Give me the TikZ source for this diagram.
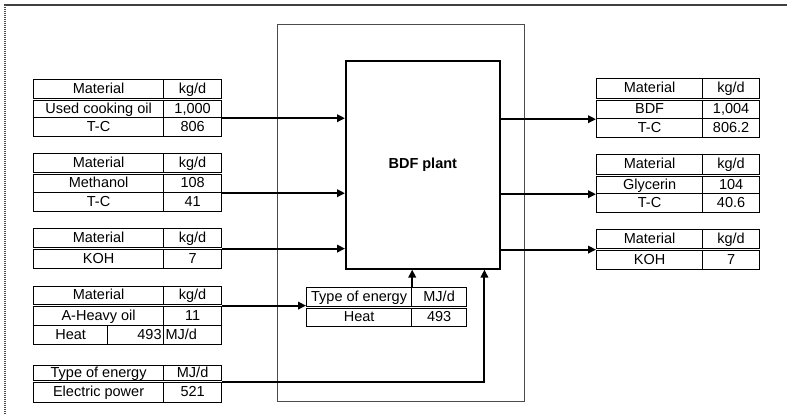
\documentclass[tikz,border=0pt]{standalone}
\usepackage{fontspec}
\setmainfont{Liberation Sans}
\usetikzlibrary{arrows.meta,calc}
\newcommand\tcell[6]{\node[cell, minimum width=#4pt, minimum height=#5pt] (#1) at (#2,#3) {#6};}
\begin{document}
\begin{tikzpicture}[x=1pt,y=-1pt,
  cell/.style={draw, line width=1.2pt, inner sep=0pt, anchor=north west,
    text height=10.5pt, text depth=2.5pt, font=\fontsize{14.5}{15}\selectfont},
  rcell/.style={cell, text width=52pt, align=right},
  lcell/.style={cell, text width=54pt, align=left},
  arr/.style={line width=2.1pt, -{Triangle[length=8pt,width=7.5pt]}},
  frame/.style={draw=black!75, line width=2pt},
  dotframe/.style={draw=black!70, line width=1.6pt, dash pattern=on 1pt off 1pt},
  boundary/.style={draw=black!70, line width=0.9pt},
  plantbox/.style={draw, line width=1.6pt, inner sep=0pt, anchor=north west,
    font=\bfseries\fontsize{14.5}{15}\selectfont}]
\useasboundingbox (0,0) rectangle (787,415);
% page frame
\draw[frame] (4,5) -- (787,5);
\draw[dotframe] (5,5) -- (5,415);
% system boundary
\draw[boundary] (277,24) rectangle (524,401);
% plant
\node[plantbox, minimum width=154pt, minimum height=208pt] (plant) at (345,60) {\raisebox{-2pt}{BDF plant}};
% ---- left tables
% T1
\tcell{t1h1}{33}{79}{130}{19}{Material}
\tcell{t1h2}{163}{79}{58}{19}{kg/d}
\tcell{t1a1}{33}{100}{130}{17}{Used cooking oil}
\tcell{t1a2}{163}{100}{58}{17}{1,000}
\tcell{t1b1}{33}{117}{130}{19}{T-C}
\tcell{t1b2}{163}{117}{58}{19}{806}
% T2
\tcell{t2h1}{33}{153}{130}{19}{Material}
\tcell{t2h2}{163}{153}{58}{19}{kg/d}
\tcell{t2a1}{33}{174}{130}{18}{Methanol}
\tcell{t2a2}{163}{174}{58}{18}{108}
\tcell{t2b1}{33}{192}{130}{19}{T-C}
\tcell{t2b2}{163}{192}{58}{19}{41}
% T3
\tcell{t3h1}{33}{228}{130}{19}{Material}
\tcell{t3h2}{163}{228}{58}{19}{kg/d}
\tcell{t3a1}{33}{249}{130}{19}{KOH}
\tcell{t3a2}{163}{249}{58}{19}{7}
% T4
\tcell{t4h1}{33}{286}{130}{18}{Material}
\tcell{t4h2}{163}{286}{58}{18}{kg/d}
\tcell{t4a1}{33}{306}{130}{19}{A-Heavy oil}
\tcell{t4a2}{163}{306}{58}{19}{11}
\tcell{t4b1}{33}{325}{74}{19}{Heat}
\node[rcell, minimum width=56pt, minimum height=19pt] (t4b2) at (107,325) {493};
\node[lcell, minimum width=58pt, minimum height=19pt] (t4b3) at (163,325) {MJ/d};
% T5
\tcell{t5h1}{33}{365}{130}{15}{Type of energy}
\tcell{t5h2}{163}{365}{58}{15}{MJ/d}
\tcell{t5a1}{33}{382}{130}{20}{Electric power}
\tcell{t5a2}{163}{382}{58}{20}{521}
% ---- middle table
\tcell{mh1}{306}{287}{105}{19}{Type of energy}
\tcell{mh2}{411}{287}{55}{19}{MJ/d}
\tcell{ma1}{306}{308}{105}{18}{Heat}
\tcell{ma2}{411}{308}{55}{18}{493}
% ---- right tables
\tcell{r1h1}{596}{78}{106}{20}{Material}
\tcell{r1h2}{702}{78}{57}{20}{kg/d}
\tcell{r1a1}{596}{100}{106}{18}{BDF}
\tcell{r1a2}{702}{100}{57}{18}{1,004}
\tcell{r1b1}{596}{118}{106}{19}{T-C}
\tcell{r1b2}{702}{118}{57}{19}{806.2}
\tcell{r2h1}{596}{154}{106}{20}{Material}
\tcell{r2h2}{702}{154}{57}{20}{kg/d}
\tcell{r2a1}{596}{176}{106}{17}{Glycerin}
\tcell{r2a2}{702}{176}{57}{17}{104}
\tcell{r2b1}{596}{193}{106}{19}{T-C}
\tcell{r2b2}{702}{193}{57}{19}{40.6}
\tcell{r3h1}{596}{229}{106}{19}{Material}
\tcell{r3h2}{702}{229}{57}{19}{kg/d}
\tcell{r3a1}{596}{250}{106}{19}{KOH}
\tcell{r3a2}{702}{250}{57}{19}{7}
% ---- connectors
\coordinate (s3) at ($(t3h2.south east)!0.5!(t3a2.north east)$);
\coordinate (s4) at ($(t4h2.south east)!0.5!(t4a2.north east)$);
\coordinate (s5) at ($(t5h2.south east)!0.5!(t5a2.north east)$);
\coordinate (e3) at ($(r3h1.south west)!0.5!(r3a1.north west)$);
\coordinate (epin) at ($(plant.south west)!0.896!(plant.south east)$);
\draw[arr] (t1a2.south east) -- (t1a2.south east -| plant.west);
\draw[arr] (t2a2.south east) -- (t2a2.south east -| plant.west);
\draw[arr] (s3) -- (s3 -| plant.west);
\draw[arr] (s4) -- (s4 -| mh1.west);
\draw[arr] (mh1.north east) -- (mh1.north east |- plant.south);
\draw[arr] (s5) -| (epin);
\draw[arr] (plant.east |- r1a1.south west) -- (r1a1.south west);
\draw[arr] (plant.east |- r2a1.south west) -- (r2a1.south west);
\draw[arr] (plant.east |- e3) -- (e3);
\end{tikzpicture}
\end{document}
